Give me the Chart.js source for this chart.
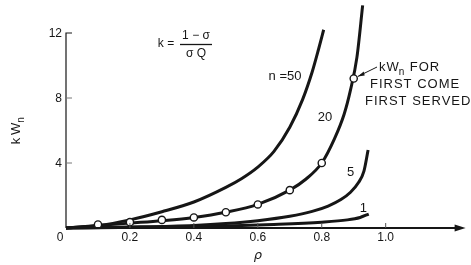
<!DOCTYPE html>
<html>
<head>
<meta charset="utf-8">
<script src="https://cdn.jsdelivr.net/npm/chart.js@4/dist/chart.umd.min.js"></script>
<style>
html,body{margin:0;padding:0;background:#fff;}
canvas{display:block;}
</style>
</head>
<body>
<canvas id="c" width="471" height="265"></canvas>
<script>
// ---- data ----
const rho50 = [0, 0.1, 0.2, 0.3, 0.4, 0.5, 0.55, 0.6, 0.65, 0.7, 0.74, 0.77, 0.79, 0.806];
const kw50  = [0, 0.15, 0.5, 1.0, 1.6, 2.5, 3.05, 3.75, 4.7, 6.2, 7.9, 9.6, 11.0, 12.2];

const rho20 = [0, 0.1, 0.2, 0.3, 0.4, 0.5, 0.6, 0.7, 0.75, 0.8, 0.84, 0.87, 0.89, 0.91, 0.928];
const kw20  = [0, 0.15, 0.3, 0.45, 0.65, 0.97, 1.45, 2.33, 3.0, 4.0, 5.5, 7.0, 8.5, 10.5, 13.7];

const rho5 = [0, 0.2, 0.4, 0.5, 0.6, 0.7, 0.77, 0.82, 0.86, 0.89, 0.915, 0.932, 0.945];
const kw5  = [0, 0.06, 0.16, 0.27, 0.45, 0.72, 1.02, 1.35, 1.75, 2.2, 2.8, 3.5, 4.8];

const rho1 = [0, 0.3, 0.5, 0.65, 0.8, 0.88, 0.92, 0.947];
const kw1  = [0, 0.06, 0.13, 0.22, 0.36, 0.5, 0.65, 0.86];

const fcfsRho = [0.1, 0.2, 0.3, 0.4, 0.5, 0.6, 0.7, 0.8, 0.9];
const fcfsKw  = [0.22, 0.36, 0.5, 0.65, 0.97, 1.45, 2.33, 4.0, 9.2];

const xTickVals   = [0.2, 0.4, 0.6, 0.8, 1.0];
const xTickLabels = ['0.2', '0.4', '0.6', '0.8', '1.0'];
const yTickVals   = [4, 8, 12];
const yTickLabels = ['4', '8', '12'];

const curveLabels = [
  {text: 'n =50', x: 0.685, y: 9.3},
  {text: '20',    x: 0.81,  y: 6.8},
  {text: '5',     x: 0.89,  y: 3.4},
  {text: '1',     x: 0.93,  y: 1.2}
];

const INK = '#161616';
const pts = (xs, ys) => xs.map((x, i) => ({x: x, y: ys[i]}));
const curve = (xs, ys) => ({
  data: pts(xs, ys), showLine: true, pointRadius: 0, borderWidth: 3,
  borderColor: INK, cubicInterpolationMode: 'monotone', clip: false, order: 2
});

const axesPlugin = {
  id: 'handAxes',
  afterDatasetsDraw(chart) {
    const ctx = chart.ctx, xs = chart.scales.x, ys = chart.scales.y;
    const x0 = xs.getPixelForValue(0), y0 = ys.getPixelForValue(0);
    const xEnd = xs.right, yTop = ys.getPixelForValue(12);
    ctx.save();
    ctx.strokeStyle = INK; ctx.fillStyle = INK;
    // y axis
    ctx.lineWidth = 1.2;
    ctx.beginPath(); ctx.moveTo(x0, y0); ctx.lineTo(x0, yTop); ctx.lineTo(x0 + 6, yTop); ctx.stroke();
    ctx.strokeStyle = '#777'; ctx.lineWidth = 1;
    [4, 8].forEach(v => { const p = ys.getPixelForValue(v); ctx.beginPath(); ctx.moveTo(x0, p); ctx.lineTo(x0 + 6, p); ctx.stroke(); });
    // x axis
    ctx.strokeStyle = INK; ctx.lineWidth = 2.2;
    ctx.beginPath(); ctx.moveTo(x0, y0); ctx.lineTo(xEnd - 6, y0); ctx.stroke();
    ctx.beginPath(); ctx.moveTo(xEnd, y0); ctx.lineTo(xEnd - 11, y0 - 3.5); ctx.lineTo(xEnd - 11, y0 + 3.5); ctx.closePath(); ctx.fill();
    ctx.lineWidth = 1; ctx.strokeStyle = '#555';
    xTickVals.forEach(v => { const p = xs.getPixelForValue(v); ctx.beginPath(); ctx.moveTo(p, y0); ctx.lineTo(p, y0 - 5); ctx.stroke(); });

    // tick labels
    ctx.fillStyle = INK;
    ctx.font = '12px "Liberation Sans", Arial, sans-serif';
    ctx.textBaseline = 'middle';
    ctx.textAlign = 'center';
    xTickVals.forEach((v, i) => ctx.fillText(xTickLabels[i], xs.getPixelForValue(v), y0 + 10));
    ctx.fillText('0', x0 - 6, y0 + 10);
    ctx.textAlign = 'right';
    yTickVals.forEach((v, i) => ctx.fillText(yTickLabels[i], x0 - 4, ys.getPixelForValue(v) + 1));

    // axis titles
    ctx.font = 'italic 13px "DejaVu Sans", sans-serif';
    ctx.textAlign = 'center';
    ctx.fillText('\u03C1', xs.getPixelForValue(0.6), y0 + 28);
    ctx.save();
    ctx.translate(16, ys.getPixelForValue(6.0));
    ctx.rotate(-Math.PI / 2);
    ctx.font = '13px "Liberation Sans", Arial, sans-serif';
    ctx.textAlign = 'left';
    const w1 = ctx.measureText('k\u2009W').width;
    ctx.fillText('k\u2009W', -w1 / 2 - 3, 0);
    ctx.font = '10px "Liberation Sans", Arial, sans-serif';
    ctx.fillText('n', w1 / 2 - 3, 5);
    ctx.restore();

    // formula k = (1-sigma)/(sigma Q)
    ctx.font = '12px "Liberation Sans", Arial, sans-serif';
    ctx.textAlign = 'center';
    ctx.fillText('k =', 166, 44);
    ctx.fillText('1 \u2212 \u03C3', 196, 36);
    ctx.lineWidth = 1.3; ctx.strokeStyle = INK;
    ctx.beginPath(); ctx.moveTo(180, 44.5); ctx.lineTo(212, 44.5); ctx.stroke();
    ctx.fillText('\u03C3 Q', 196, 54);

    // curve labels
    ctx.font = '13px "Liberation Sans", Arial, sans-serif';
    curveLabels.forEach(l => ctx.fillText(l.text, xs.getPixelForValue(l.x), ys.getPixelForValue(l.y)));

    // annotation
    ctx.textAlign = 'left';
    ctx.font = '13px "Liberation Sans", Arial, sans-serif';
    ctx.letterSpacing = '1px';
    ctx.fillText('kW', 379, 67);
    const kw = ctx.measureText('kW').width;
    ctx.font = '10px "Liberation Sans", Arial, sans-serif';
    ctx.fillText('n', 379 + kw - 1, 72);
    ctx.font = '13px "Liberation Sans", Arial, sans-serif';
    ctx.fillText('FOR', 379 + kw + 10, 67);
    ctx.fillText('FIRST COME', 370, 84);
    ctx.fillText('FIRST SERVED', 365, 101);
    ctx.letterSpacing = '0px';
    // arrow to the 0.9 point
    const ax = xs.getPixelForValue(0.9) + 4, ay = ys.getPixelForValue(9.2) - 2;
    ctx.lineWidth = 1; ctx.strokeStyle = INK;
    ctx.beginPath(); ctx.moveTo(377, 67); ctx.lineTo(ax, ay); ctx.stroke();
    ctx.beginPath(); ctx.moveTo(ax, ay); ctx.lineTo(ax + 6, ay - 5); ctx.lineTo(ax + 7, ay - 1); ctx.closePath(); ctx.fill();
    ctx.restore();
  }
};

new Chart(document.getElementById('c'), {
  type: 'scatter',
  data: {
    datasets: [
      curve(rho50, kw50),
      curve(rho20, kw20),
      curve(rho5, kw5),
      curve(rho1, kw1),
      {
        data: pts(fcfsRho, fcfsKw), showLine: false, pointRadius: 3.6,
        pointBackgroundColor: '#fff', pointBorderColor: INK, pointBorderWidth: 1.4,
        clip: false, order: 0
      }
    ]
  },
  options: {
    responsive: false, animation: false, devicePixelRatio: 1,
    layout: {padding: {left: 66, right: 1, top: 33, bottom: 37}},
    plugins: {legend: {display: false}, tooltip: {enabled: false}},
    scales: {
      x: {type: 'linear', min: 0, max: 1.25, display: false},
      y: {type: 'linear', min: 0, max: 12, display: false}
    }
  },
  plugins: [axesPlugin]
});
</script>
</body>
</html>
